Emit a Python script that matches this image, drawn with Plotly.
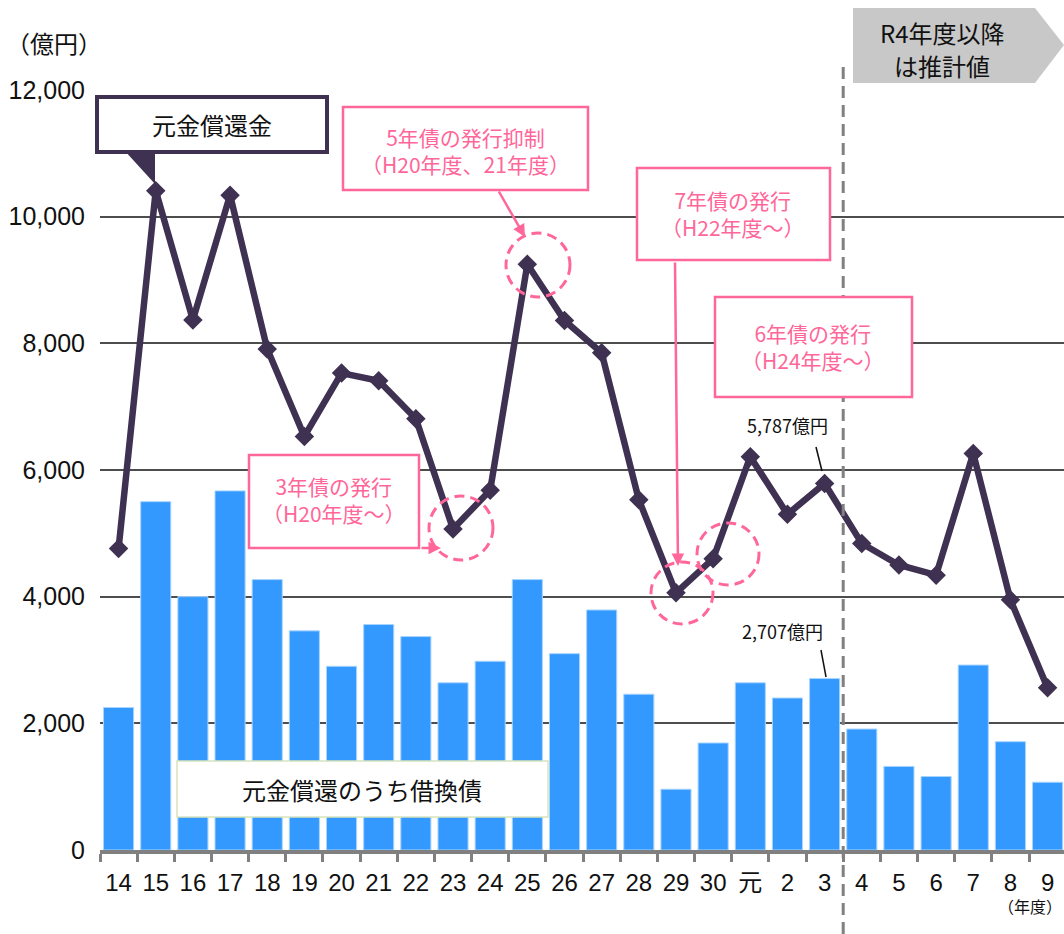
import plotly.graph_objects as go

# fiscal years (Heisei 14-30, Reiwa 元-9)
years = ['14', '15', '16', '17', '18', '19', '20', '21', '22', '23', '24', '25', '26',
         '27', '28', '29', '30', '元', '2', '3', '4', '5', '6', '7', '8', '9']

# 元金償還金 (億円)
repayment = [4760, 10410, 8370, 10340, 7910, 6530, 7530, 7410, 6810, 5070, 5680, 9250, 8360,
             7850, 5530, 4060, 4600, 6210, 5300, 5787, 4840, 4500, 4340, 6260, 3950, 2560]

# 元金償還のうち借換債 (億円)
refunding = [2250, 5500, 4000, 5670, 4270, 3460, 2900, 3560, 3370, 2640, 2980, 4270, 3100,
             3790, 2460, 960, 1690, 2640, 2400, 2707, 1910, 1320, 1160, 2920, 1710, 1070]

PURPLE = '#3f3151'
PINK = '#ff6699'
JP = 'Noto Sans CJK JP'
NUM = 'Liberation Sans, Noto Sans CJK JP'

# plot area in pixels, used to place the decorations
L, T, W, H = 100, 90, 964, 760
X0, X1 = -0.5, -0.5 + W / 37.16


def px(x):
    return (x - L) / W


def py(y):
    return (T + H - y) / H


def cat(i):
    return (i - X0) / (X1 - X0)


fig = go.Figure()
fig.add_trace(go.Bar(x=years, y=refunding, name='元金償還のうち借換債',
                     marker=dict(color='#3399ff', line=dict(color='#a8d4ff', width=1))))
fig.add_trace(go.Scatter(x=years, y=repayment, name='元金償還金', mode='lines+markers',
                         line=dict(color=PURPLE, width=6.5),
                         marker=dict(symbol='diamond', size=15, color=PURPLE)))

shapes = []
annotations = []


def rect(x0, y0, x1, y1, color, width, fill='white'):
    shapes.append(dict(type='rect', xref='paper', yref='paper', x0=px(x0), x1=px(x1),
                       y0=py(y1), y1=py(y0), line=dict(color=color, width=width), fillcolor=fill))


def text(x, y, s, size, color='#111111', family=JP):
    annotations.append(dict(xref='paper', yref='paper', x=px(x), y=py(y), text=s, showarrow=False,
                            xanchor='center', yanchor='middle', font=dict(size=size, color=color, family=family)))


def ring(cx, cy, r):
    shapes.append(dict(type='circle', xref='paper', yref='paper', x0=px(cx - r), x1=px(cx + r),
                       y0=py(cy + r), y1=py(cy - r), line=dict(color=PINK, width=3, dash='10px,6px')))


def arrow(x0, y0, x1, y1):
    annotations.append(dict(xref='paper', yref='paper', x=px(x1), y=py(y1), ax=x0 - x1, ay=y0 - y1,
                            text='', showarrow=True, arrowhead=2, arrowsize=1, arrowwidth=2.5,
                            arrowcolor=PINK))


# forecast divider and label
shapes.append(dict(type='line', xref='paper', yref='paper', x0=cat(19.5), x1=cat(19.5),
                   y0=py(934), y1=py(60), line=dict(color='#808080', width=3, dash='12px,7px')))
shapes.append(dict(type='path', xref='paper', yref='paper', fillcolor='#c8c8c8', line=dict(width=0),
                   path=f'M {px(853)} {py(8)} L {px(1035)} {py(8)} L {px(1064)} {py(45)} '
                        f'L {px(1035)} {py(83)} L {px(853)} {py(83)} Z'))
text(942, 32, 'R4年度以降', 24)
text(942, 66, 'は推計値', 24)

# series labels
rect(97, 97, 327, 152, PURPLE, 4)
shapes.append(dict(type='path', xref='paper', yref='paper', fillcolor=PURPLE, line=dict(width=0),
                   path=f'M {px(124)} {py(150)} L {px(155)} {py(150)} L {px(155)} {py(184)} Z'))
text(212, 125, '元金償還金', 24)
rect(177, 761, 548, 817, '#d7e4bd', 1.5)
text(362, 789, '元金償還のうち借換債', 24)

# pink notes
rect(343, 107, 588, 190, PINK, 2.5)
text(465, 150, '5年債の発行抑制<br>（H20年度、21年度）', 21, PINK)
arrow(498, 190, 525, 237)
ring(538, 265, 32)

rect(637, 168, 830, 260, PINK, 2.5)
text(733, 213, '7年債の発行<br>（H22年度～）', 21, PINK)
arrow(675, 261, 678, 566)
ring(682, 593, 31)

rect(715, 297, 912, 397, PINK, 2.5)
text(813, 346, '6年債の発行<br>（H24年度～）', 21, PINK)
ring(728, 554, 31)

rect(249, 455, 419, 548, PINK, 2.5)
text(334, 499, '3年債の発行<br>（H20年度～）', 21, PINK)
arrow(420, 548, 441, 548)
ring(461, 528, 32)

# value callouts for R3
text(787, 425, '5,787億円', 18)
shapes.append(dict(type='line', xref='paper', yref='paper', x0=px(816), y0=py(447), x1=px(822), y1=py(471),
                   line=dict(color='#111111', width=1.5)))
text(782, 631, '2,707億円', 18)
shapes.append(dict(type='line', xref='paper', yref='paper', x0=px(821), y0=py(650), x1=px(826), y1=py(677),
                   line=dict(color='#111111', width=1.5)))

# unit labels
text(54, 42, '（億円）', 24)
text(1030, 906, '（年度）', 16)

fig.update_layout(
    width=1064, height=934,
    margin=dict(l=L, r=1064 - L - W, t=T, b=934 - T - H),
    paper_bgcolor='white', plot_bgcolor='white',
    showlegend=False, bargap=0.19,
    shapes=shapes, annotations=annotations,
    xaxis=dict(type='category', range=[X0, X1], showline=True, linecolor='#808080', linewidth=4,
               ticks='outside', tickson='boundaries', ticklen=8, tickwidth=3, tickcolor='#808080',
               showgrid=False, tickangle=0, tickfont=dict(size=24, color='#111111', family=NUM),
               ticklabelstandoff=8),
    yaxis=dict(range=[0, 12000], dtick=2000, tickformat=',d', showgrid=True, gridcolor='#4d4d4d',
               gridwidth=1.5, zeroline=False, showline=False,
               tickfont=dict(size=25, color='#111111', family=NUM), ticklabelstandoff=14),
)

fig.write_html('out.html', config={'displayModeBar': False},
               post_script="document.body.style.margin='0';document.body.style.overflow='hidden';")
